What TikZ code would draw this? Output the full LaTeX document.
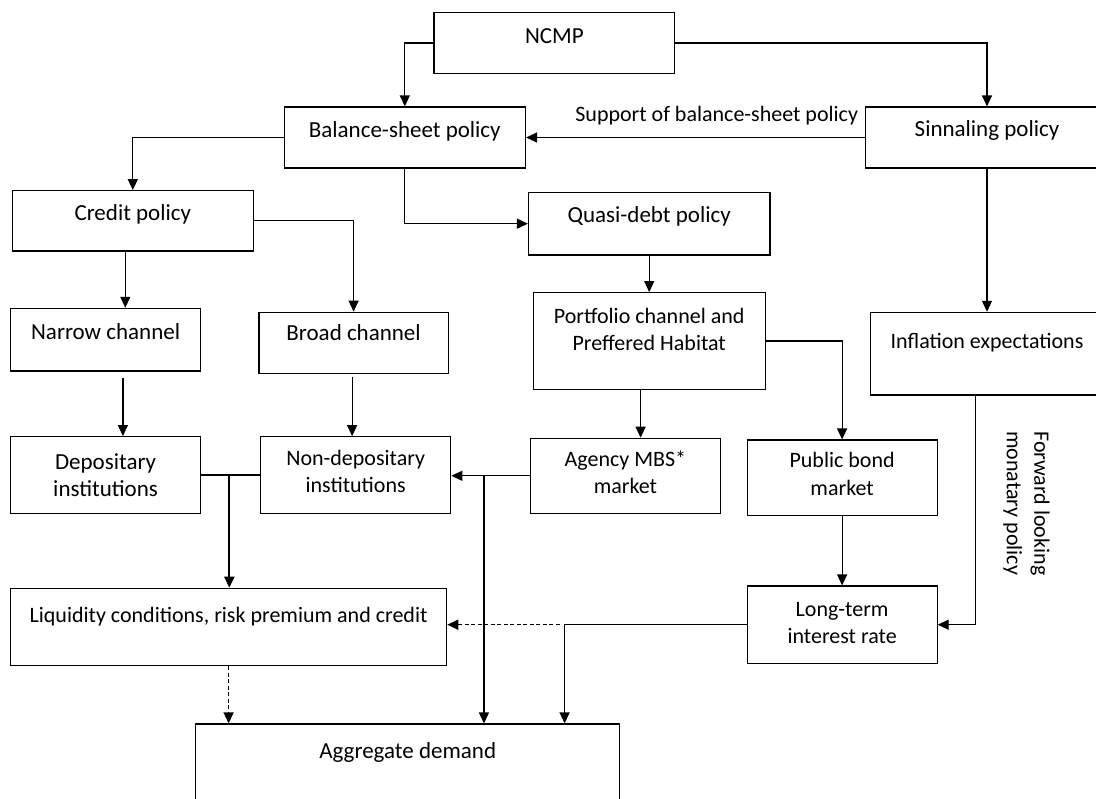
\documentclass[tikz,border=0pt]{standalone}
\usepackage{fontspec}
\setmainfont{Carlito}
\usetikzlibrary{arrows.meta}

\begin{document}
\begin{tikzpicture}[>={Triangle[length=11bp,width=10bp]},
  box/.style={draw,line width=1.2bp,inner sep=0pt,align=center,
    font=\fontsize{23bp}{27.5bp}\selectfont,text height=16bp,text depth=#1},
  box/.default=16bp,
  twoline/.style={box=#1,text height=43.5bp},
  sm/.style={font=\fontsize{22bp}{27.5bp}\selectfont},
  lbl/.style={inner sep=0pt,align=left,font=\fontsize{22bp}{27.5bp}\selectfont},
  conn/.style={line width=1.2bp},
  dot/.style={line width=1.2bp,dash pattern=on 4bp off 2.5bp}]
\useasboundingbox (0,0) rectangle (1096bp,-799bp);
\clip (0,0) rectangle (1096bp,-799bp);
%%
\node (ncmp) at (554.4bp,-43.0bp) [box,minimum width=240.9bp,minimum height=60.6bp] {NCMP};
  \node (bsp) at (404.8bp,-137.5bp) [box,minimum width=241.3bp,minimum height=61.0bp] {Balance-sheet policy};
  \node (sig) at (987.0bp,-137.5bp) [box=17.6bp,minimum width=243.4bp,minimum height=61.0bp] {Sinnaling policy};
  \node (credit) at (132.8bp,-220.8bp) [box,minimum width=240.9bp,minimum height=60.3bp] {Credit policy};
  \node (quasi) at (649.2bp,-223.7bp) [box=18bp,minimum width=241.4bp,minimum height=62.7bp] {Quasi-debt policy};
  \node (narrow) at (105.6bp,-339.7bp) [box=17bp,minimum width=190.1bp,minimum height=62.7bp] {Narrow channel};
  \node (broad) at (353.6bp,-343.0bp) [box=20.6bp,minimum width=189.4bp,minimum height=61.4bp] {Broad channel};
  \node (portf) at (649.2bp,-341.0bp) [twoline=23.9bp,sm,minimum width=232.2bp,minimum height=96.6bp] {Portfolio channel and\\Preffered Habitat};
  \node (infl) at (987.0bp,-353.7bp) [box=26.8bp,sm,minimum width=233.4bp,minimum height=82.7bp] {Inflation expectations};
  \node (depos) at (105.6bp,-475.0bp) [twoline=0.5bp,minimum width=190.1bp,minimum height=76.6bp] {Depositary\\institutions};
  \node (nondep) at (355.7bp,-475.0bp) [twoline=8.5bp,sm,minimum width=190.1bp,minimum height=76.6bp] {Non-depositary\\institutions};
  \node (agency) at (625.4bp,-475.8bp) [twoline=8.1bp,sm,minimum width=190.0bp,minimum height=75.0bp] {Agency MBS*\\market};
  \node (pub) at (842.1bp,-477.9bp) [twoline=8.8bp,sm,minimum width=190.0bp,minimum height=75.7bp] {Public bond\\market};
  \node (liq) at (228.6bp,-627.0bp) [box=24.6bp,sm,minimum width=436.1bp,minimum height=77.4bp] {Liquidity conditions, risk premium and credit};
  \node (lt) at (842.1bp,-624.7bp) [twoline=5.8bp,sm,minimum width=190.0bp,minimum height=77.3bp] {Long-term\\interest rate};
  \node (aggr) at (407.7bp,-774.0bp) [box=47.4bp,minimum width=424.0bp,minimum height=100.0bp] {Aggregate demand};
  \node (fwd) at (1026.5bp,-503.4bp) [lbl,rotate=-90] {Forward looking\\monatary policy};
  \draw [conn,->] (ncmp.west) -| (bsp.north);
  \draw [conn,->] (ncmp.east) -| (sig.north);
  \draw [conn,->] (sig.west) -- node (supp) [lbl,pos=0.437,yshift=15.8bp,text height=16bp,text depth=16bp] {Support of balance-sheet policy} (bsp.east);
  \draw [conn,->] (bsp.west) -| (credit.north);
  \draw [conn,->] (bsp.south) |- (quasi.west);
  \draw [conn,->] ([xshift=-7.5bp]credit.south) -- ([xshift=-7.5bp]credit.south |- narrow.north);
  \draw [conn,->] (credit.east) -| (broad.north);
  \draw [conn,->] (quasi) -- (portf);
  \draw [conn,->] (sig) -- (infl);
  \draw [conn,->,shorten <=6bp] ([xshift=17.3bp]narrow.south) -- ([xshift=17.3bp]narrow.south |- depos.north);
  \draw [conn,->,shorten <=3bp] ([xshift=-1.5bp]broad.south) -- ([xshift=-1.5bp]broad.south |- nondep.north);
  \draw [conn,->] ([xshift=-8.6bp]portf.south) -- ([xshift=-8.6bp]portf.south |- agency.north);
  \draw [conn,->] (portf.east) -| (pub.north);
  \draw [conn] (depos.east) -- (nondep.west);
  \draw [line width=2.2bp,->] ([xshift=28.1bp]depos.east) -- ([xshift=28.1bp]depos.east |- liq.north);
  \draw [conn,->] (agency.west) -- (agency.west -| nondep.east);
  \draw [conn,->] ([xshift=32.6bp]nondep.east) -- ([xshift=32.6bp]nondep.east |- aggr.north);
  \draw [conn,->] ([xshift=-11.7bp]infl.south) |- (lt.east);
  \draw [conn,->] (pub) -- (lt);
  \draw [conn,->] (lt.west) -| ([xshift=156.9bp]aggr.north);
  \draw [dot,->,shorten <=5bp] ([xshift=156.9bp]aggr.north |- lt.west) -- (liq.east |- lt.west);
  \draw [dot,->] (liq.south) -- (liq.south |- aggr.north);
%
\end{tikzpicture}
\end{document}
